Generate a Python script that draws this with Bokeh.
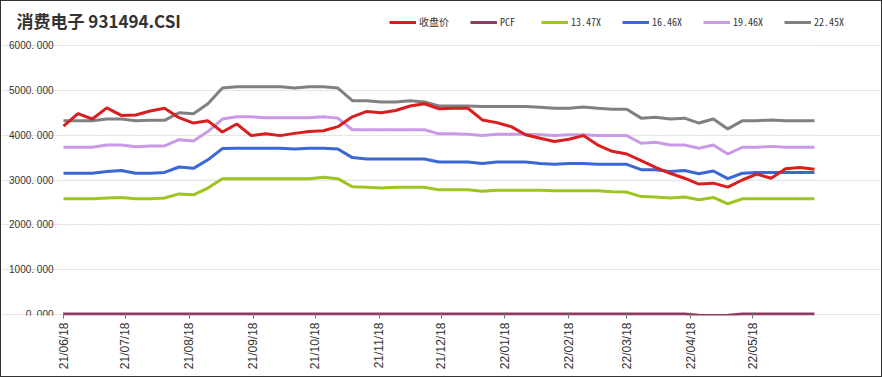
import math
import pandas as pd
from bokeh.plotting import figure
from bokeh.models import (Range1d, FixedTicker, DatetimeTickFormatter, Legend,
                          LegendItem, Label)
from bokeh.core.properties import value
from bokeh.embed import file_html
from bokeh.resources import INLINE

title_text = "消费电子 931494.CSI"
dates = pd.date_range("2021-06-18", periods=53, freq="7D")
series_names = ["收盘价", "PCF", "13.47X", "16.46X", "19.46X", "22.45X"]

close = [4200, 4480, 4360, 4610, 4440, 4450, 4540, 4600, 4390, 4270,
         4320, 4070, 4250, 3990, 4030, 3990, 4040, 4080, 4100, 4190,
         4410, 4530, 4500, 4550, 4650, 4700, 4590, 4600, 4600, 4340,
         4280, 4190, 4010, 3930, 3860, 3910, 3990, 3780, 3640, 3580,
         3430, 3280, 3150, 3040, 2910, 2930, 2840, 3000, 3130, 3040,
         3250, 3280, 3240]
pcf = [10] * 44 + [-15, -25, -15] + [10] * 6
pe_1347 = [2580, 2580, 2580, 2600, 2610, 2580, 2580, 2600, 2690, 2670,
           2820, 3030, 3030, 3030, 3030, 3030, 3030, 3030, 3060, 3030,
           2850, 2840, 2820, 2840, 2840, 2840, 2780, 2780, 2780, 2750,
           2770, 2770, 2770, 2770, 2760, 2760, 2760, 2760, 2740, 2730,
           2630, 2620, 2600, 2620, 2560, 2610, 2470, 2580, 2580, 2580,
           2580, 2580, 2580]
pe_1646 = [3150, 3150, 3150, 3190, 3210, 3150, 3150, 3170, 3290, 3260,
           3450, 3700, 3710, 3710, 3710, 3710, 3690, 3710, 3710, 3690,
           3500, 3470, 3470, 3470, 3470, 3470, 3400, 3400, 3400, 3370,
           3400, 3400, 3400, 3370, 3350, 3370, 3370, 3350, 3350, 3350,
           3230, 3230, 3190, 3210, 3140, 3200, 3030, 3150, 3170, 3170,
           3170, 3170, 3170]
pe_1946 = [3730, 3730, 3730, 3780, 3780, 3740, 3760, 3760, 3900, 3870,
           4080, 4360, 4410, 4410, 4390, 4390, 4390, 4390, 4410, 4380,
           4120, 4120, 4120, 4120, 4120, 4120, 4030, 4030, 4020, 3990,
           4020, 4020, 4020, 4010, 3990, 4010, 4010, 3990, 3990, 3990,
           3820, 3840, 3780, 3780, 3710, 3780, 3580, 3730, 3730, 3750,
           3730, 3730, 3730]
pe_2245 = [4320, 4320, 4320, 4360, 4360, 4320, 4330, 4330, 4500, 4480,
           4700, 5050, 5080, 5080, 5080, 5080, 5050, 5080, 5080, 5050,
           4770, 4770, 4740, 4740, 4770, 4740, 4650, 4650, 4650, 4640,
           4640, 4640, 4640, 4620, 4600, 4600, 4630, 4600, 4580, 4580,
           4380, 4400, 4360, 4380, 4270, 4360, 4140, 4320, 4320, 4340,
           4320, 4320, 4320]

tick_dates = ["2021-06-18", "2021-07-18", "2021-08-18", "2021-09-18",
              "2021-10-18", "2021-11-18", "2021-12-18", "2022-01-18",
              "2022-02-18", "2022-03-18", "2022-04-18", "2022-05-18"]
y_ticks = [0, 1000, 2000, 3000, 4000, 5000, 6000]
y_tick_labels = ["0. 000", "1000. 000", "2000. 000", "3000. 000",
                 "4000. 000", "5000. 000", "6000. 000"]

colors = ["#d81e1e", "#8e3b5f", "#9dc41f", "#3a66d6", "#c89ae8", "#808080"]
series = [close, pcf, pe_1347, pe_1646, pe_1946, pe_2245]

# layout geometry (pixels): plot area 62..815 wide, 6000 at 44, 0 at 313
W, H, BOTTOM = 882, 377, 63
LEFT, RIGHT, TOP0, Y0 = 62, 815, 44, 313
frame_h = H - BOTTOM
day0 = dates[0]
span_days = 365
ppd = (RIGHT - LEFT) / span_days
ppu = (Y0 - TOP0) / 6000
x_start = day0 - pd.Timedelta(days=LEFT / ppd)
x_end = day0 + pd.Timedelta(days=(W - LEFT) / ppd)
y_start = -(frame_h - Y0) / ppu
y_end = 6000 + TOP0 / ppu

p = figure(width=W, height=H, x_axis_type="datetime", y_axis_location=None,
           output_backend="svg", toolbar_location=None,
           x_range=Range1d(x_start, x_end), y_range=Range1d(y_start, y_end),
           min_border_left=0, min_border_right=0,
           min_border_top=0, min_border_bottom=BOTTOM)
p.outline_line_color = None
p.background_fill_color = "white"
p.border_fill_color = "white"
p.styles = {"border": "1px solid #333", "box-sizing": "border-box"}
p.xgrid.visible = False

# horizontal grid lines and y tick labels
grid_end = day0 + pd.Timedelta(days=span_days)
p.segment(x0=[day0] * len(y_ticks), x1=[grid_end] * len(y_ticks),
          y0=y_ticks, y1=y_ticks, line_color="#e8e8e8", line_width=1,
          line_dash="3 2")
label_x = day0 - pd.Timedelta(days=10 / ppd)
p.text(x=[label_x] * len(y_ticks), y=y_ticks, text=y_tick_labels,
       text_align="right", text_baseline="middle",
       text_font=value("Liberation Sans"), text_font_size="10px",
       text_color="#333333")

tick_ms = [pd.Timestamp(d).value / 1e6 for d in tick_dates]
p.xaxis.ticker = FixedTicker(ticks=tick_ms, minor_ticks=[])
fmt = "%y/%m/%d"
p.xaxis.formatter = DatetimeTickFormatter(
    milliseconds=fmt, seconds=fmt, minsec=fmt, minutes=fmt, hourmin=fmt,
    hours=fmt, days=fmt, months=fmt, years=fmt)
p.xaxis.major_label_orientation = math.pi / 2
p.xaxis.axis_line_color = None
p.xaxis.major_tick_line_color = "#777777"
p.xaxis.major_tick_in = 3
p.xaxis.major_tick_out = 3
p.xaxis.minor_tick_line_color = None
p.xaxis.major_label_standoff = 4
p.xaxis.major_label_text_font = "Liberation Sans"
p.xaxis.major_label_text_font_size = "12px"
p.xaxis.major_label_text_color = "#333333"

renderers = {}
draw_order = [1, 2, 3, 4, 5, 0]
for i in draw_order:
    renderers[i] = p.line(dates, series[i], line_color=colors[i], line_width=3)

items = [LegendItem(label=series_names[i], renderers=[renderers[i]])
         for i in range(6)]
legend = Legend(items=items, orientation="horizontal",
                location=(388, frame_h - 28),
                label_text_font="Noto Sans Mono CJK SC, DejaVu Sans Mono",
                label_text_font_size="10px", label_text_color="#333333",
                glyph_width=27, glyph_height=10, label_height=10,
                label_standoff=3, spacing=21, padding=0, margin=0,
                background_fill_alpha=0, border_line_alpha=0)
p.add_layout(legend)

title = Label(x=15, y=frame_h - 19, x_units="screen", y_units="screen",
              text=title_text, text_font="Noto Sans CJK SC",
              text_font_style="bold", text_font_size="17px",
              text_color="#333333", text_baseline="alphabetic")
p.add_layout(title)

open("out.html", "w").write(file_html(p, INLINE))
